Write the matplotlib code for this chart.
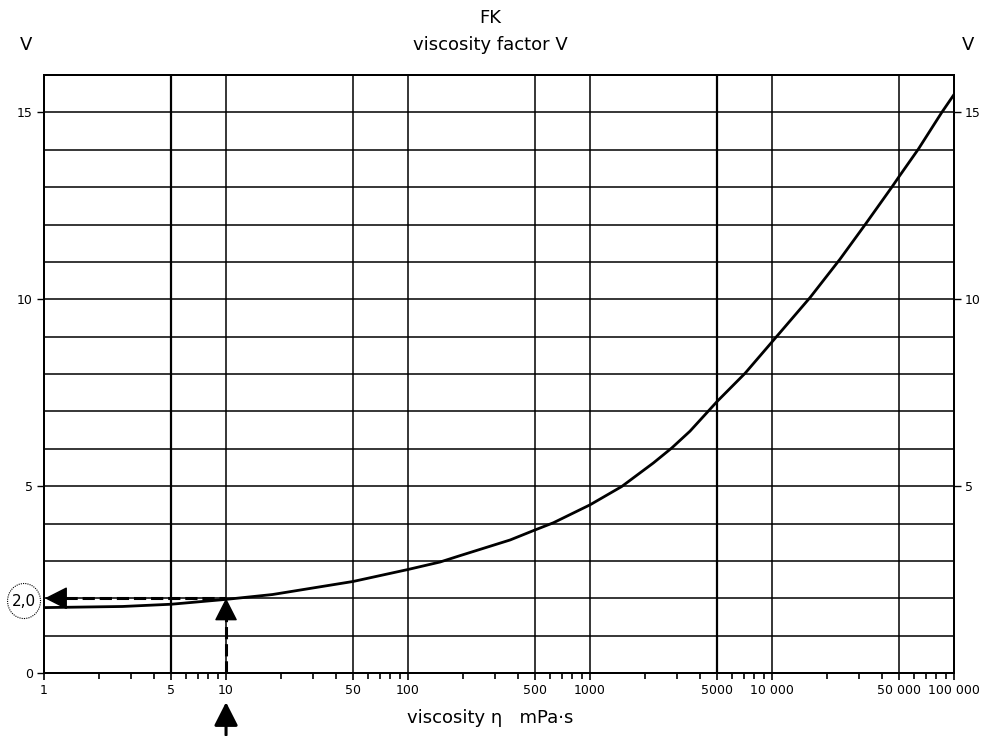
import numpy as np
import matplotlib.pyplot as plt
from matplotlib.patches import Ellipse

# viscosity (mPa*s) vs viscosity factor V
visc = [1, 2.7, 5, 10, 18, 50, 100, 150, 193, 364, 500, 629, 1000, 1493,
        2228, 2810, 3540, 5000, 7110, 10000, 16200, 23600, 32500, 45500,
        50000, 63700, 85600, 100000]
factor = [1.75, 1.78, 1.84, 1.97, 2.1, 2.45, 2.77, 2.97, 3.14, 3.56, 3.83,
          4.02, 4.5, 4.99, 5.62, 6.02, 6.47, 7.27, 8.02, 8.86, 10.05, 11.07,
          12.0, 13.0, 13.29, 14.02, 15.0, 15.48]

grid_x = [5, 10, 50, 100, 500, 1000, 5000, 10000, 50000]
xtick_vals = [1, 5, 10, 50, 100, 500, 1000, 5000, 10000, 50000, 100000]
xtick_labels = ['1', '5', '10', '50', '100', '500', '1000', '5000',
                '10 000', '50 000', '100 000']
read_x, read_v = 10, 2.0

plt.rcParams['font.family'] = ['DejaVu Sans']

fig = plt.figure(figsize=(9.81, 7.36), dpi=100)
ax = fig.add_axes([0.0449, 0.0856, 0.9276, 0.8124])
ax.set_xscale('log')
ax.set_xlim(1, 100000)
ax.set_ylim(0, 16)

for y in range(1, 16):
    ax.axhline(y, color='black', lw=1.1, zorder=1)
for gx in grid_x:
    lw = 1.6 if gx in (5, 5000) else 1.1
    ax.axvline(gx, color='black', lw=lw, zorder=1)

ax.plot(visc, factor, color='black', lw=2.0, zorder=3,
        solid_joinstyle='round')

# reading example: 10 mPa*s -> 2,0
head = '-|>,head_length=0.65,head_width=0.33'
ax.plot([read_x, read_x], [0, read_v - 0.4], color='black', lw=2.2,
        ls=(0, (4, 1.6)), zorder=4)
ax.annotate('', xy=(read_x, read_v), xytext=(read_x, read_v - 0.5),
            arrowprops=dict(arrowstyle=head, color='black', lw=1,
                            mutation_scale=22, shrinkA=0, shrinkB=0),
            zorder=5)
ax.plot([1.3, read_x], [read_v, read_v], color='black', lw=2.2,
        ls=(0, (4, 1.6)), zorder=4)
ax.annotate('', xy=(1.01, read_v), xytext=(1.35, read_v),
            arrowprops=dict(arrowstyle=head, color='black', lw=1,
                            mutation_scale=22, shrinkA=0, shrinkB=0),
            zorder=5)
ax.annotate('', xy=(read_x, -0.78), xytext=(read_x, -1.66),
            annotation_clip=False,
            arrowprops=dict(arrowstyle=head, color='black', lw=2.2,
                            mutation_scale=22, shrinkA=0, shrinkB=0))
circ = Ellipse((0.0245, 0.1834), 0.0336, 0.0476, transform=fig.transFigure,
               fill=False, ec='black', lw=0.8, ls=(0, (1, 1)))
fig.patches.append(circ)
fig.text(0.0245, 0.1834, '2,0', ha='center', va='center', fontsize=11)

ax.set_xticks(xtick_vals)
ax.set_xticklabels(xtick_labels, fontsize=9)
ax.tick_params(axis='x', which='major', direction='out', length=5, width=1.2,
               pad=3)
ax.tick_params(axis='x', which='minor', direction='out', length=4, width=1.2,
               labelbottom=False)
ax.set_yticks([0, 5, 10, 15])
ax.tick_params(axis='y', direction='out', length=5, width=1, labelsize=9,
               pad=3)
ax.yaxis.set_minor_locator(plt.NullLocator())

ax2 = ax.twinx()
ax2.set_ylim(0, 16)
ax2.set_yticks([5, 10, 15])
ax2.tick_params(axis='y', direction='out', length=5, width=1, labelsize=9,
                pad=3)

for a in (ax, ax2):
    for s in a.spines.values():
        s.set_linewidth(1.4)

fig.text(0.4995, 0.975, 'FK', ha='center', va='center', fontsize=13)
fig.text(0.4995, 0.939, 'viscosity factor V', ha='center', va='center',
         fontsize=13)
fig.text(0.027, 0.939, 'V', ha='center', va='center', fontsize=13)
fig.text(0.987, 0.939, 'V', ha='center', va='center', fontsize=13)
fig.text(0.4995, 0.024, 'viscosity η   mPa·s', ha='center',
         va='center', fontsize=13)

plt.savefig('out.png')
